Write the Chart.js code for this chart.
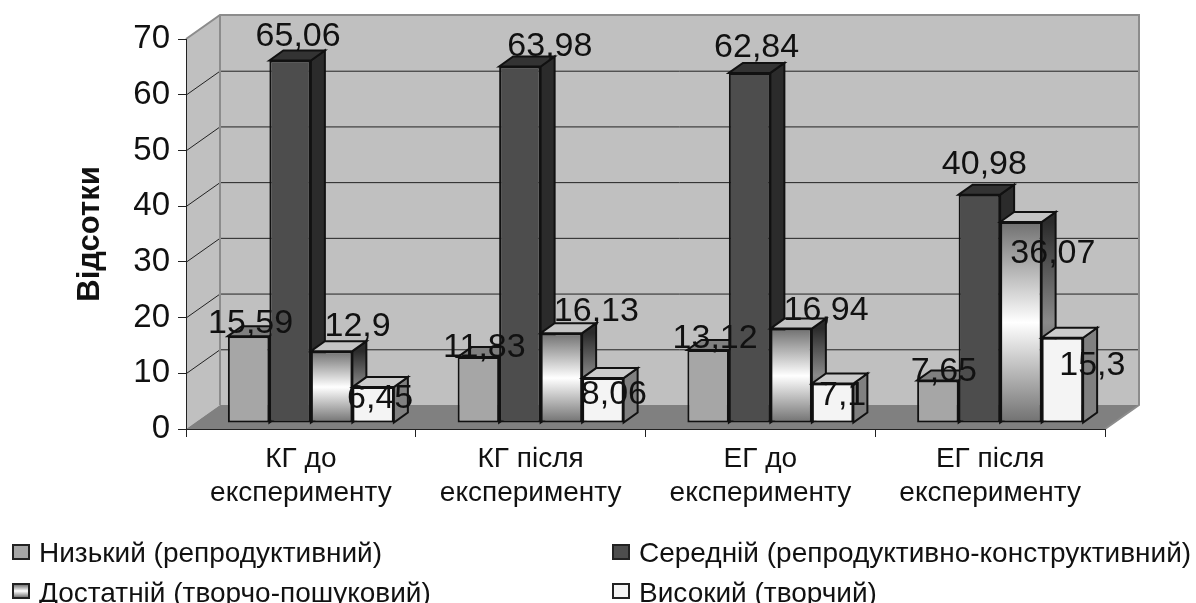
<!DOCTYPE html>
<html>
<head>
<meta charset="utf-8">
<script src="https://cdn.jsdelivr.net/npm/chart.js@4"></script>
<style>
    body { margin: 0; background: #fff; }
    #wrap { position: relative; width: 1196px; height: 603px; overflow: hidden; }
    #legend span.item { position: absolute; font: 28px "Liberation Sans", Arial, sans-serif; color: #111; white-space: nowrap; line-height: 30px; }
    #legend i { position: absolute; box-sizing: border-box; width: 18px; height: 16px; border: 2px solid #222; }
</style>
</head>
<body>
<div id="wrap">
    <canvas id="chart" width="1196" height="603"></canvas>
    <div id="legend"></div>
</div>
<script>
// Chart data
const categories = [['КГ до', 'експерименту'], ['КГ після', 'експерименту'], ['ЕГ до', 'експерименту'], ['ЕГ після', 'експерименту']];
const seriesNames = ['Низький (репродуктивний)', 'Середній (репродуктивно-конструктивний)', 'Достатній (творчо-пошуковий)', 'Високий (творчий)'];
const low = [15.59, 11.83, 13.12, 7.65];
const middle = [65.06, 63.98, 62.84, 40.98];
const sufficient = [12.9, 16.13, 16.94, 36.07];
const high = [6.45, 8.06, 7.1, 15.3];

// Value labels were placed by hand in the original, so nudge them per bar
const labelNudges = [
    [[2, -14], [6, -10], [7, -12], [6, -10]],
    [[8, -25], [30, -21], [7, -26], [5, -31]],
    [[26, -26], [35, -23], [35, -19], [32, 31]],
    [[7, 11], [11, 16], [10, 11], [30, 27]]
];

// 3D look
const wallDepth = { x: 34, y: -24 };
const barShift = { x: 10, y: -6 };
const barDepth = { x: 14, y: -10 };
const fontName = '"Liberation Sans", Arial, sans-serif';

function poly(ctx, points, fill, stroke, lineWidth) {
    ctx.beginPath();
    points.forEach((p, i) => i ? ctx.lineTo(p[0], p[1]) : ctx.moveTo(p[0], p[1]));
    ctx.closePath();
    if (fill) {
        ctx.fillStyle = fill;
        ctx.fill();
    }
    if (stroke) {
        ctx.strokeStyle = stroke;
        ctx.lineWidth = lineWidth;
        ctx.stroke();
    }
}

// Gray-white-gray gradient for the "sufficient" bars
function shine(ctx, y0, y1, edge, mid) {
    const g = ctx.createLinearGradient(0, y0, 0, y1);
    g.addColorStop(0, edge);
    g.addColorStop(0.5, mid);
    g.addColorStop(1, edge);
    return g;
}

function shinyFront(c) {
    if (!c.parsed) return '#ccc';
    const y = c.chart.scales.y;
    const top = y.getPixelForValue(c.parsed.y);
    const base = y.getPixelForValue(0);
    // scales have no size yet on the very first pass
    if (!Number.isFinite(top) || !Number.isFinite(base)) return '#ccc';
    return shine(c.chart.ctx, top, base, '#707070', '#ffffff');
}

const sideColors = ['#707070', '#2b2b2b', null, '#808080'];
const topColors = ['#7f7f7f', '#333333', '#c4c4c4', '#cccccc'];

const depthPlugin = {
    id: 'depth',
    // walls and floor go under the axes
    beforeDraw(chart) {
        const { ctx, chartArea: a, scales } = chart;
        const dx = wallDepth.x, dy = wallDepth.y;
        ctx.save();
        poly(ctx, [[a.left + dx, a.top + dy], [a.right + dx, a.top + dy], [a.right + dx, a.bottom + dy], [a.left + dx, a.bottom + dy]], '#c0c0c0');
        poly(ctx, [[a.left, a.top], [a.left + dx, a.top + dy], [a.left + dx, a.bottom + dy], [a.left, a.bottom]], '#c0c0c0');
        poly(ctx, [[a.left, a.bottom], [a.right, a.bottom], [a.right + dx, a.bottom + dy], [a.left + dx, a.bottom + dy]], '#808080');
        ctx.lineWidth = 1;
        ctx.strokeStyle = '#222';
        scales.y.ticks.forEach(t => {
            if (t.value === 0 || t.value === 70) return;
            const y = scales.y.getPixelForValue(t.value);
            ctx.beginPath();
            ctx.moveTo(a.left, y + 0.5);
            ctx.lineTo(a.left + dx, y + dy + 0.5);
            ctx.lineTo(a.right + dx, y + dy + 0.5);
            ctx.stroke();
        });
        ctx.strokeStyle = '#8c8c8c';
        ctx.lineWidth = 2;
        ctx.beginPath();
        ctx.moveTo(a.left, a.top);
        ctx.lineTo(a.left + dx, a.top + dy);
        ctx.lineTo(a.right + dx, a.top + dy);
        ctx.lineTo(a.right + dx, a.bottom + dy);
        ctx.lineTo(a.right, a.bottom);
        ctx.moveTo(a.left + dx, a.top + dy);
        ctx.lineTo(a.left + dx, a.bottom + dy);
        ctx.stroke();
        ctx.restore();
    },
    // Chart.js paints the first dataset last, here the bars have to overlap
    // left to right, so paint them ourselves and cancel the normal pass
    beforeDatasetsDraw(chart) {
        const ctx = chart.ctx;
        chart.data.datasets.forEach((ds, i) => {
            const meta = chart.getDatasetMeta(i);
            ctx.save();
            ctx.translate(barShift.x, barShift.y);
            meta.data.forEach(bar => {
                const r = bar.x + bar.width / 2, l = bar.x - bar.width / 2;
                const dx = barDepth.x, dy = barDepth.y;
                const side = sideColors[i] || shine(ctx, bar.y, bar.base, '#2b2b2b', '#8a8a8a');
                poly(ctx, [[r, bar.y], [r + dx, bar.y + dy], [r + dx, bar.base + dy], [r, bar.base]], side, '#111', 2);
                poly(ctx, [[l, bar.y], [l + dx, bar.y + dy], [r + dx, bar.y + dy], [r, bar.y]], topColors[i], '#111', 2);
            });
            meta.controller.draw();
            ctx.restore();
        });

        // value labels sit on top of everything
        ctx.save();
        ctx.font = '34px ' + fontName;
        ctx.fillStyle = '#111';
        ctx.textAlign = 'center';
        ctx.textBaseline = 'middle';
        chart.data.datasets.forEach((ds, i) => {
            chart.getDatasetMeta(i).data.forEach((bar, j) => {
                const n = labelNudges[i][j];
                const text = String(ds.data[j]).replace('.', ',');
                ctx.fillText(text, bar.x + barShift.x + n[0], bar.y + barShift.y + n[1] + 1);
            });
        });
        ctx.restore();
        return false;
    }
};

const fronts = ['#a6a6a6', '#4d4d4d', shinyFront, '#f4f4f4'];
const seriesValues = [low, middle, sufficient, high];

new Chart(document.getElementById('chart'), {
    type: 'bar',
    data: {
        labels: categories,
        datasets: seriesNames.map((name, i) => ({
            label: name,
            data: seriesValues[i],
            backgroundColor: fronts[i],
            borderColor: '#111',
            borderWidth: 2,
            borderSkipped: false,
            categoryPercentage: 0.7225,
            barPercentage: 1
        }))
    },
    options: {
        responsive: false,
        animation: false,
        layout: { padding: { left: 0, top: 39, right: 91, bottom: 0 } },
        plugins: {
            legend: { display: false },
            tooltip: { enabled: false }
        },
        scales: {
            x: {
                afterFit: s => { s.height = 174; },
                border: { color: '#222', width: 1 },
                grid: { drawOnChartArea: false, color: '#222', tickLength: 8 },
                ticks: {
                    color: '#111',
                    padding: 5,
                    maxRotation: 0,
                    autoSkip: false,
                    font: { family: fontName, size: 28, lineHeight: 1.22 }
                }
            },
            y: {
                min: 0,
                max: 70,
                afterFit: s => { s.width = 186; },
                border: { color: '#222', width: 1 },
                grid: { drawOnChartArea: false, color: '#222', tickLength: 8 },
                ticks: {
                    stepSize: 10,
                    color: '#111',
                    padding: 8,
                    font: { family: fontName, size: 33 }
                },
                title: {
                    display: true,
                    text: 'Відсотки',
                    color: '#111',
                    padding: { top: 72, bottom: 0 },
                    font: { family: fontName, size: 31, weight: 'bold' }
                }
            }
        }
    },
    plugins: [depthPlugin]
});

// Legend: two fixed columns, the built-in one cannot do this
// [swatch x, swatch y, text x, text y]
const legendSpots = [[12, 544, 39, 538], [612, 544, 639, 538], [12, 583, 39, 578], [612, 583, 639, 578]];
const swatches = ['#a6a6a6', '#4d4d4d', 'linear-gradient(#777, #fff, #777)', '#f4f4f4'];
const legendBox = document.getElementById('legend');
seriesNames.forEach((name, i) => {
    const spot = legendSpots[i];
    const box = document.createElement('i');
    box.style.left = spot[0] + 'px';
    box.style.top = spot[1] + 'px';
    box.style.background = swatches[i];
    legendBox.appendChild(box);
    const text = document.createElement('span');
    text.className = 'item';
    text.textContent = name;
    text.style.left = spot[2] + 'px';
    text.style.top = spot[3] + 'px';
    legendBox.appendChild(text);
});
</script>
</body>
</html>
